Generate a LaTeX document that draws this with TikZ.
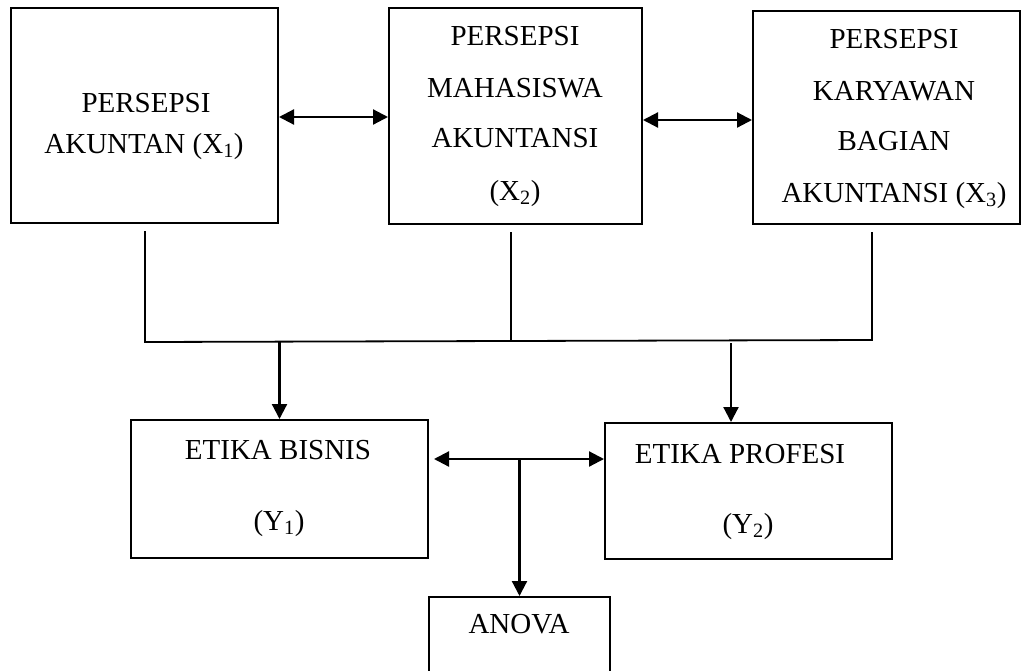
\documentclass[tikz,border=0pt]{standalone}
\usepackage{fontspec}
\setmainfont{Liberation Serif}
\usetikzlibrary{arrows.meta,calc}
\begin{document}
\begin{tikzpicture}[x=1pt,y=-1pt,
  box/.style={draw,line width=2pt,inner sep=0pt,rectangle},
  lbl/.style={anchor=base,inner sep=0pt,font=\fontsize{29}{34}\selectfont},
  conn/.style={line width=1.8pt},
  arr/.style={line width=2.2pt,-{Triangle[length=15pt,width=15pt]}},
  dbl/.style={line width=2.2pt,{Triangle[length=15pt,width=15pt]}-{Triangle[length=15pt,width=15pt]}}]
\useasboundingbox (0,0) rectangle (1028,670);
\clip (0,0) rectangle (1028,670);
% boxes
\node[box,minimum width=267pt,minimum height=215pt] (x1) at (144.5,115.5) {};
\node[box,minimum width=253pt,minimum height=216pt] (x2) at (515.5,116) {};
\node[box,minimum width=267pt,minimum height=213pt] (x3) at (886.5,117.5) {};
\node[box,minimum width=297pt,minimum height=138pt] (y1) at (279.5,489) {};
\node[box,minimum width=287pt,minimum height=136pt] (y2) at (748.5,491) {};
\node[box,minimum width=181pt,minimum height=100pt] (an) at (519.5,647) {};
% texts
\node[lbl] (t1a) at (146,112) {PERSEPSI};
\node[lbl] (t1b) at (144,153) {AKUNTAN (X\textsubscript{1})};
\node[lbl] (t2a) at (515,45) {PERSEPSI};
\node[lbl] (t2b) at (515,97) {MAHASISWA};
\node[lbl] (t2c) at (515,147) {AKUNTANSI};
\node[lbl] (t2d) at (515,200) {(X\textsubscript{2})};
\node[lbl] (t3a) at (894,48) {PERSEPSI};
\node[lbl] (t3b) at (894,100) {KARYAWAN};
\node[lbl] (t3c) at (894,150) {BAGIAN};
\node[lbl] (t3d) at (894,202) {AKUNTANSI (X\textsubscript{3})};
\node[lbl] (ty1a) at (278,459) {ETIKA BISNIS};
\node[lbl] (ty1b) at (279,530) {(Y\textsubscript{1})};
\node[lbl] (ty2a) at (740,463) {ETIKA PROFESI};
\node[lbl] (ty2b) at (748,533) {(Y\textsubscript{2})};
\node[lbl] (tan) at (519,633) {ANOVA};
% junction coordinates
\coordinate (j1) at (145,342);
\coordinate (j3) at (872,340);
% connectors
\draw[dbl] (x1.east |- 0,117) -- (x2.west |- 0,117);
\draw[dbl] (x2.east |- 0,120) -- (x3.west |- 0,120);
\draw[conn] ($(x1.south -| j1)+(0,7)$) -- (j1) -- (j3) -- ($(x3.south -| j3)+(0,7)$);
\draw[conn] ($(x2.south -| 511,0)+(0,7)$) -- (511,341);
\draw[arr] (y1.north |- j1) -- (y1.north);
\draw[arr] (731,343) -- (y2.north -| 731,0);
\draw[dbl] ($(y1.east |- 0,459)+(5,0)$) -- (y2.west |- 0,459);
\draw[arr] (an.north |- 0,459) -- (an.north);
\end{tikzpicture}
\end{document}
